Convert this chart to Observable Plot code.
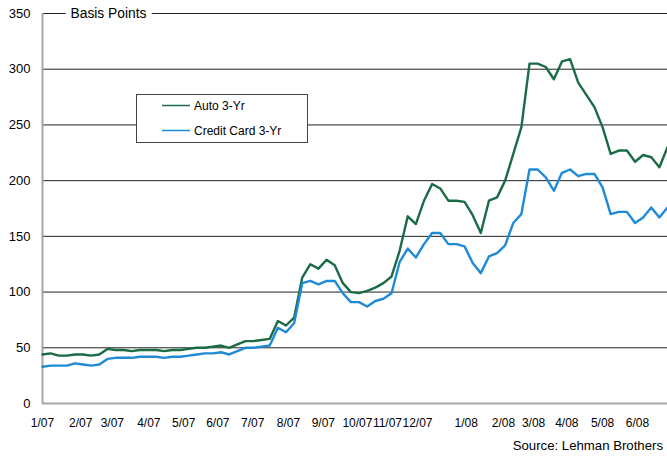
<!DOCTYPE html>
<html><head><meta charset="utf-8">
<script src="https://cdn.jsdelivr.net/npm/d3@7"></script>
<script src="https://cdn.jsdelivr.net/npm/@observablehq/plot@0.6"></script>
<style>body{margin:0;background:#fff} svg{display:block}</style>
</head><body><div id="chart"></div>
<script>
// weekly observations, Jan 2007 - Jun 2008 (index = week number)
const auto3yr = [44,45,43,43,44,44,43,44,49,48,48,47,48,48,48,47,48,48,49,50,50,51,52,50,53,56,56,57,58,74,70,77,113,125,121,129,124,108,100,99,101,104,108,114,137,168,161,182,197,193,182,182,181,169,153,182,185,200,224,248,305,305,302,291,307,309,288,277,266,248,224,227,227,217,223,221,212,230];
const creditCard3yr = [33,34,34,34,36,35,34,35,40,41,41,41,42,42,42,41,42,42,43,44,45,45,46,44,47,50,50,51,52,68,64,72,108,110,107,110,110,99,91,91,87,92,94,99,127,139,131,143,153,153,143,143,141,126,117,132,135,142,162,170,210,210,203,191,207,210,204,206,206,194,170,172,172,162,167,176,167,176];
const seriesNames = ["Auto 3-Yr", "Credit Card 3-Yr"];
const seriesColors = ["#1b6b45", "#1f8ad6"];
const tickIndex = [0,4.7,8.6,13.1,17.4,21.6,25.9,30.3,34.6,38.8,42.5,46.2,52.2,56.8,60.5,64.6,69.0,73.3];
const tickLabels = ["1/07","2/07","3/07","4/07","5/07","6/07","7/07","8/07","9/07","10/07","11/07","12/07","1/08","2/08","3/08","4/08","5/08","6/08"];
const yTicks = [0,50,100,150,200,250,300,350];
const yTitle = "Basis Points";
const source = "Source: Lehman Brothers";

const data = auto3yr.map((v, i) => ({i, auto: v, card: creditCard3yr[i]}));
const font = "'Liberation Sans', Arial, sans-serif";

const chart = Plot.plot({
  width: 667, height: 461,
  marginLeft: 42, marginRight: 0, marginTop: 13, marginBottom: 58,
  style: {fontFamily: font, fontSize: "12.5px", background: "white", color: "#000", overflow: "visible"},
  x: {domain: [0, auto3yr.length - 1]},
  y: {domain: [0, 350]},
  marks: [
    Plot.ruleY(yTicks.filter(d => d > 0), {stroke: "#222", strokeWidth: 1}),
    Plot.ruleX([0], {stroke: "#a6a6a6", strokeWidth: 2}),
    Plot.ruleY([0], {stroke: "#a6a6a6", strokeWidth: 2}),
    Plot.line(data, {x: "i", y: "auto", stroke: seriesColors[0], strokeWidth: 2.4}),
    Plot.line(data, {x: "i", y: "card", stroke: seriesColors[1], strokeWidth: 2.4}),
    Plot.axisY({ticks: yTicks, tickSize: 0, tickPadding: 12, label: null, fill: "#000", fontSize: 13}),
    Plot.axisX({ticks: tickIndex, tickFormat: d => tickLabels[tickIndex.indexOf(d)], tickSize: 0, tickPadding: 15, label: null, fill: "#000", fontSize: 12}),
    Plot.text([yTitle], {frameAnchor: "top-left", dx: 28, text: d => d, textAnchor: "start", lineAnchor: "middle", fill: "#000", stroke: "white", strokeWidth: 12, fontSize: 13.8})
  ]
});

const svg = d3.select(chart);
const lg = svg.append("g").attr("text-anchor", "start");
lg.append("rect").attr("x", 136.5).attr("y", 94.5).attr("width", 171).attr("height", 48)
  .attr("fill", "white").attr("stroke", "#444");
seriesNames.forEach((name, k) => {
  const y = 105.5 + k * 25;
  lg.append("line").attr("x1", 162).attr("x2", 190).attr("y1", y).attr("y2", y)
    .attr("stroke", seriesColors[k]).attr("stroke-width", 1.5);
  lg.append("text").attr("x", 194).attr("y", y).attr("dy", "0.35em").attr("text-anchor", "start")
    .attr("font-family", font).attr("font-size", 12).attr("fill", "#000").text(name);
});
svg.append("text").attr("x", 663).attr("y", 450).attr("text-anchor", "end")
  .attr("font-family", font).attr("font-size", 13.2).attr("fill", "#000").text(source);

document.getElementById("chart").appendChild(chart);
</script>
</body></html>
